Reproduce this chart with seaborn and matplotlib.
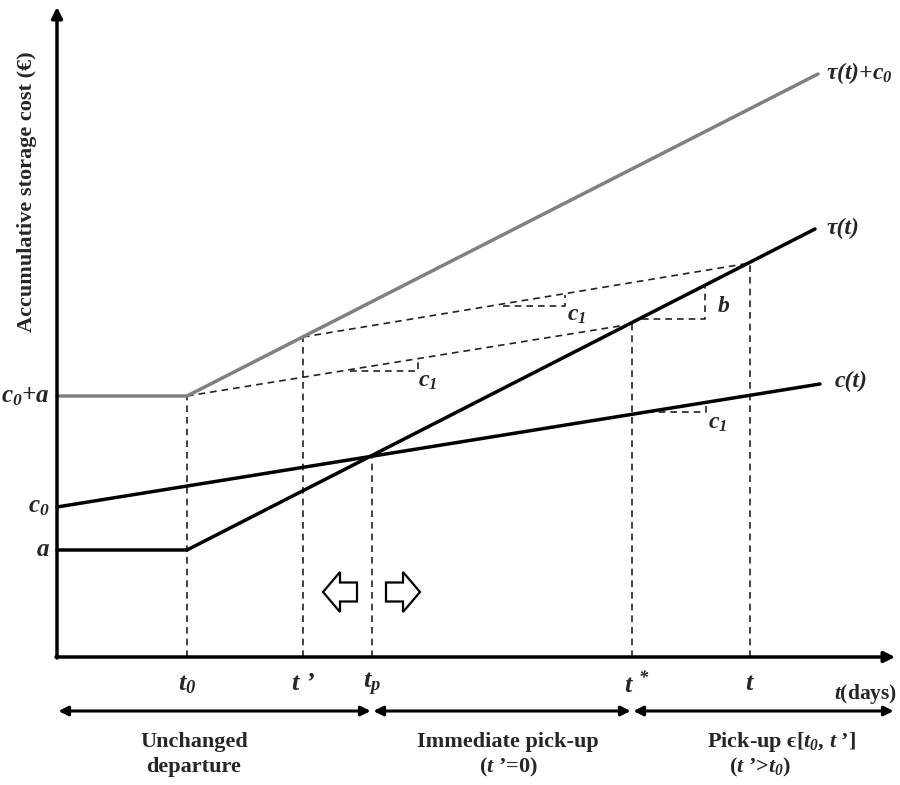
import matplotlib
matplotlib.use("Agg")
import matplotlib.pyplot as plt
from matplotlib.patches import FancyArrow
import seaborn as sns
import pandas as pd

# ---------------- data (conceptual units) ----------------
# time marks on the horizontal axis
mark_labels = [r"$t_0$", "t ’", r"$t_p$", r"$t\ ^{*}$", r"$t$"]
mark_times = [130, 246, 315, 575, 693]
mark_label_x = [130, 246, 315, 580, 693]

# cost levels on the vertical axis
level_labels = [r"$a$", r"$c_0$", r"$c_0$+$a$"]
level_values = [107, 150, 261]

# curves
tau_t = [0, 130, 758]
tau_cost = [107, 107, 428]
tauc0_t = [0, 130, 761]
tauc0_cost = [261, 261, 583]
c_t = [0, 763]
c_cost = [150, 273]

# dashed guide lines of slope c1
guide1_t = [130, 575]
guide1_cost = [261, 333]
guide2_t = [246, 693]
guide2_cost = [320, 394]

# dashed vertical guides (top of each)
vline_t = [130, 246, 315, 575, 693]
vline_top = [261, 320, 202, 333, 394]

# slope triangles (horizontal leg then vertical leg)
tri_t = [[293, 361, 361], [446, 508, 508], [585, 648, 648], [590, 649, 649]]
tri_cost = [[286, 286, 297], [351, 351, 362], [338, 338, 370], [245, 245, 255]]
tri_labels = [r"$c_1$", r"$c_1$", r"$b$", r"$c_1$"]
tri_label_t = [371, 520, 667, 661]
tri_label_cost = [275, 341, 351, 234]

# region boundaries along time
region_bounds = [0, 315, 575, 838]
region_line1 = ["Unchanged", "Immediate pick-up", "Pick-up ϵ[$t_0$, $t$ ’]"]
region_line2 = ["departure", "($t$ ’=0)", "($t$ ’>$t_0$)"]
region_x1 = [137, 451, 725]
region_x2 = [137, 451, 703]

# ---------------- style ----------------
sns.set_theme(style="white")
plt.rcParams["font.family"] = ["Liberation Serif", "DejaVu Serif"]
plt.rcParams["font.weight"] = "bold"
plt.rcParams["mathtext.fontset"] = "custom"
plt.rcParams["mathtext.it"] = "Liberation Serif:italic:bold"
plt.rcParams["mathtext.rm"] = "Liberation Serif:italic:bold"
plt.rcParams["mathtext.bf"] = "Liberation Serif:italic:bold"
plt.rcParams["mathtext.default"] = "it"

fig = plt.figure(figsize=(9, 7.85), dpi=100)
ax = fig.add_axes([0, 0, 1, 1])
ax.set_xlim(-57, 843)
ax.set_ylim(-128, 657)
ax.axis("off")

# ---------------- curves ----------------
curves = pd.DataFrame({
    "t": tau_t + tauc0_t + c_t,
    "cost": tau_cost + tauc0_cost + c_cost,
    "curve": ["tau"] * len(tau_t) + ["tauc0"] * len(tauc0_t) + ["c"] * len(c_t),
})
sns.lineplot(data=curves, x="t", y="cost", hue="curve",
             palette={"tau": "black", "tauc0": "#808080", "c": "black"},
             estimator=None, sort=False, legend=False, linewidth=2.5, ax=ax,
             zorder=3)

dash = dict(color="#222222", lw=1.2, linestyle=(0, (4, 3)), zorder=2)
ax.plot(guide1_t, guide1_cost, **dash)
ax.plot(guide2_t, guide2_cost, **dash)
for tv, top in zip(vline_t, vline_top):
    ax.plot([tv, tv], [0, top], **dash)
for tt, cc in zip(tri_t, tri_cost):
    ax.plot(tt, cc, **dash)

# ---------------- axes arrows ----------------
ax.annotate("", xy=(838, 0), xytext=(-1, 0),
            arrowprops=dict(arrowstyle="-|>", lw=2.5, color="black",
                            mutation_scale=16, shrinkA=0, shrinkB=0), zorder=4)
ax.annotate("", xy=(0, 650), xytext=(0, -1),
            arrowprops=dict(arrowstyle="-|>", lw=2.5, color="black",
                            mutation_scale=16, shrinkA=0, shrinkB=0), zorder=4)

# ---------------- labels ----------------
fs = 18
for lab, x in zip(mark_labels, mark_label_x):
    ax.text(x, -27, lab, ha="center", va="center", fontsize=19,
            fontstyle="italic", fontweight="bold")
ax.text(840, -37, r"$t$(days)", ha="right", va="center", fontsize=15.5,
        fontweight="bold")

for lab, v in zip(level_labels, level_values):
    ax.text(-7, v, lab, ha="right", va="center", fontsize=fs,
            fontstyle="italic", fontweight="bold")

ax.text(-30, 465, "Accumulative storage cost (€)", rotation=90, ha="center",
        va="center", fontsize=16, fontweight="bold")

ax.text(769, 584, "τ(t)+" + r"$c_0$", ha="left", va="center", fontsize=17,
        fontstyle="italic", fontweight="bold")
ax.text(770, 429, "τ(t)", ha="left", va="center", fontsize=17,
        fontstyle="italic", fontweight="bold")
ax.text(778, 276, "c(t)", ha="left", va="center", fontsize=17,
        fontstyle="italic", fontweight="bold")

for lab, x, y in zip(tri_labels, tri_label_t, tri_label_cost):
    ax.text(x, y, lab, ha="center", va="center", fontsize=17)

# ---------------- block arrows ----------------
ax.add_patch(FancyArrow(300, 65, -34, 0, width=19, head_width=40,
                        head_length=17, length_includes_head=True,
                        facecolor="white", edgecolor="black", lw=1.6, zorder=4))
ax.add_patch(FancyArrow(329, 65, 34, 0, width=19, head_width=40,
                        head_length=17, length_includes_head=True,
                        facecolor="white", edgecolor="black", lw=1.6, zorder=4))

# ---------------- region arrows & text ----------------
for i in range(3):
    ax.annotate("", xy=(region_bounds[i + 1], -54), xytext=(region_bounds[i], -54),
                arrowprops=dict(arrowstyle="<|-|>", lw=2.2, color="black",
                                mutation_scale=14, shrinkA=1, shrinkB=1))
    ax.text(region_x1[i], -85, region_line1[i], ha="center", va="center",
            fontsize=16, fontweight="bold")
    ax.text(region_x2[i], -110, region_line2[i], ha="center", va="center",
            fontsize=16, fontweight="bold")

fig.savefig("out.png", dpi=100)
